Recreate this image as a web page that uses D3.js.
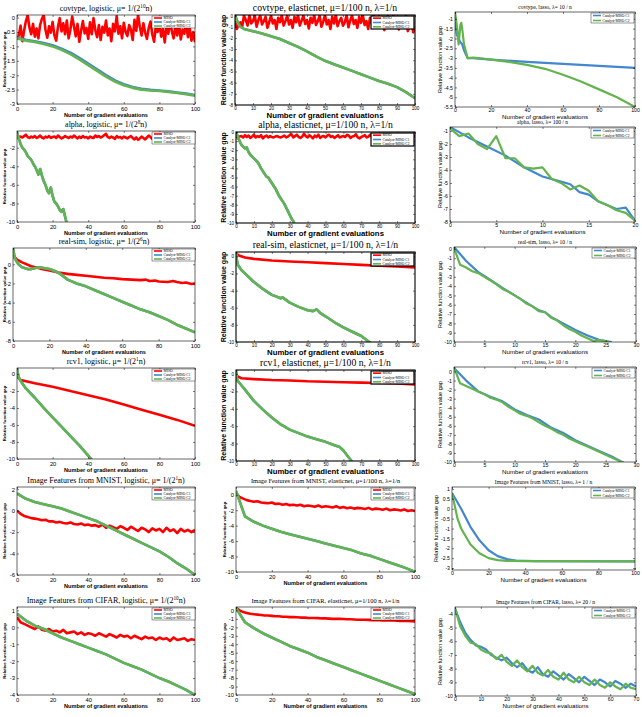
<!DOCTYPE html>
<html>
<head>
<meta charset="utf-8">
<script src="https://cdn.jsdelivr.net/npm/d3@7"></script>
<style>
  body { margin: 0; background: #fff; }
  text { fill: #000; }
</style>
</head>
<body>
<script>
// ---------------- data ----------------
const ser = (step, ys) => ys.map((v, i) => [i * step, v]);

const legend3 = ["MISO", "Catalyst-MISO C1", "Catalyst-MISO C2"];
const legend2 = ["Catalyst-MISO C1", "Catalyst-MISO C2"];

const ticks100by20 = [0, 20, 40, 60, 80, 100];
const ticks100by10 = [0, 10, 20, 30, 40, 50, 60, 70, 80, 90, 100];
const ticks20by5 = [0, 5, 10, 15, 20];
const ticks30by5 = [0, 5, 10, 15, 20, 25, 30];
const ticks70by10 = [0, 10, 20, 30, 40, 50, 60, 70];

// covtype
const covLogMiso = [-0.75,-0.62,-0.28,-0.82,-0.45,-0.12,0.08,-0.35,-0.58,-0.22,
  -0.66,-0.38,-0.72,-0.25,-0.04,0.09,-0.42,-0.7,-0.3,-0.52,
  -0.15,-0.62,-0.8,-0.33,-0.02,-0.48,-0.2,-0.58,-0.1,-0.72,
  -0.42,0.04,-0.3,-0.65,-0.22,-0.84,-0.46,-0.12,-0.55,-0.36,
  -0.74,-0.16,-0.58,-0.02,-0.44,-0.68,-0.26,-0.78,-0.32,-0.52,
  -0.1,-0.62,-0.38,-0.82,-0.22,-0.48,0.05,-0.56,-0.3,-0.72,
  -0.18,-0.5,-0.64,-0.26,-0.42,-0.78,-0.08,-0.46,0.1,-0.32,
  -0.62,-0.2,-0.52,-0.74,-0.36,-0.14,-0.58,-0.84,-0.3,-0.5,
  -0.22,-0.66,-0.4,-0.86,-0.26,-0.56,-0.1,-0.48,-0.72,-0.3,
  -0.62,-0.2,-0.76,-0.42,-0.56,-0.16,-0.68,-0.36,-0.8,-0.5,-0.86];
const covLogC1 = [-0.7,-0.77,-0.82,-0.88,-0.96,-1.08,-1.22,-1.4,-1.6,-1.8,-2.0,-2.18,-2.31,-2.41,-2.47,-2.51,-2.53,-2.56,-2.6,-2.64,-2.69];
const covLogC2 = [-0.72,-0.8,-0.85,-0.92,-1.0,-1.12,-1.27,-1.45,-1.65,-1.85,-2.05,-2.22,-2.35,-2.44,-2.5,-2.53,-2.55,-2.58,-2.62,-2.66,-2.71];

const covEnMiso = [-0.5,-1.2,-0.8,-0.6,-1.0,0.0,-0.4,-0.9,0.05,-0.7,
  -0.5,0.0,-1.0,-0.4,0.05,-0.8,-0.5,-0.1,-1.1,-0.6,
  0.0,-0.7,-0.4,-1.2,-0.2,-0.6,0.05,-0.9,-0.5,0.0,
  -0.8,-0.4,-1.1,-0.1,-0.6,0.05,-0.9,-0.45,0.0,-0.75,
  -0.4,-1.15,-0.2,-0.65,0.05,-0.85,-0.5,0.0,-1.0,-0.55,
  0.05,-0.8,-0.4,-1.2,-0.1,-0.7,0.05,-0.95,-0.5,-0.2,
  -0.9,-0.6,0.05,-1.05,-0.45,0.0,-0.75,-0.4,-1.1,-0.1,
  -0.65,0.05,-0.85,-0.5,-1.2,-0.2,-0.7,0.0,-1.0,-0.55,
  -0.1,-0.9,-0.6,-1.3,-0.4,-0.05,-1.0,-0.7,0.0,-0.85,
  -0.5,-1.25,-0.2,-0.8,-0.6,0.0,-1.4,-0.9,-0.5,-1.5,-1.2];
const covEnC = [[0,0.05],[1,-0.4],[2,-0.8],[3,-1.0],[5,-1.2],[10,-1.4],[15,-1.6],[20,-1.85],[25,-2.1],[30,-2.45],[35,-2.8],[40,-3.2],[45,-3.65],[50,-4.05],[55,-4.35],[60,-4.65],[65,-4.95],[70,-5.25],[75,-5.55],[80,-5.85],[85,-6.1],[90,-6.4],[95,-6.85],[100,-7.4]];

const covLasC1 = [[0,-1.0],[1,-1.8],[2,-2.0],[3,-2.2],[4,-2.3],[5,-2.6],[7,-3.0],[10,-3.0],[20,-3.08],[40,-3.2],[60,-3.3],[80,-3.4],[100,-3.5]];
const covLasC2 = [[0,-0.65],[1,-1.3],[2,-2.3],[3,-1.3],[3.5,-1.2],[4,-1.5],[5,-2.3],[7,-3.0],[10,-2.98],[13,-3.0],[20,-3.08],[30,-3.2],[40,-3.35],[50,-3.55],[60,-3.85],[70,-4.2],[80,-4.6],[90,-5.0],[100,-5.5]];

// alpha
const alphaLogMiso = [-1.0,-0.85,-0.8,-0.9,-0.75,-0.6,-0.85,-0.95,-0.8,-0.9,
  -0.75,-0.95,-0.85,-0.7,-0.9,-1.0,-0.8,-0.9,-0.75,-0.95,
  -0.85,-0.8,-0.95,-0.7,-0.85,-1.0,-0.9,-0.75,-0.85,-0.95,
  -0.8,-0.9,-0.7,-0.85,-1.0,-0.8,-0.95,-0.75,-0.9,-0.85,
  -1.0,-0.8,-0.9,-0.95,-0.7,-0.85,-0.75,-0.9,-0.8,-0.65,
  -0.5,-0.85,-0.95,-0.8,-0.9,-1.05,-0.75,-0.9,-0.85,-1.0,
  -0.8,-0.9,-1.0,-0.85,-0.75,-0.95,-1.1,-0.9,-1.15,-1.0,
  -0.8,-0.95,-1.1,-0.9,-0.7,-0.85,-1.05,-0.9,-0.8,-1.0,
  -0.9,-0.85,-1.05,-0.95,-0.8,-1.1,-0.9,-0.85,-1.0,-0.9,
  -0.8,-0.95,-1.05,-0.9,-0.85,-1.0,-0.9,-1.1,-0.95,-0.85,-0.95];
const alphaLogC = [-0.3,-1.0,-1.6,-2.0,-2.2,-2.5,-2.9,-3.1,-3.3,-3.7,-4.0,-4.4,-4.9,-4.3,-5.0,-5.6,-6.0,-6.6,-6.9,-6.3,-7.2,-7.8,-8.0,-8.3,-8.7,-8.9,-8.6,-9.4,-10.2];

const alphaEnMiso = [-0.3,-0.7,-0.5,-0.45,-0.6,-0.35,-0.55,-0.4,-0.65,-0.5,
  -0.3,-0.6,-0.45,-0.55,-0.35,-0.7,-0.5,-0.4,-0.6,-0.45,
  -0.55,-0.6,-0.5,-0.45,-0.55,-0.6,-0.5,-0.4,-0.6,-0.5,
  -0.35,-0.25,-0.6,-0.45,-0.3,-0.55,-0.65,-0.5,-0.2,-0.45,
  -0.6,-0.35,-0.5,-0.7,-0.4,-0.55,-0.3,-0.65,-0.5,-0.45,
  -0.6,-0.4,-0.3,-0.55,-0.45,-0.65,-0.5,-0.35,-0.6,-0.5,
  -0.45,-0.55,-0.3,-0.4,-0.65,-0.5,-0.45,-0.25,-0.6,-0.7,
  -0.55,-0.45,-0.35,-0.6,-0.5,-0.3,-0.55,-0.45,-0.7,-0.5,
  -0.4,-0.3,-0.55,-0.65,-0.45,-0.35,-0.6,-0.5,-0.7,-0.45,
  -0.35,-0.5,-0.6,-0.4,-0.55,-0.3,-0.5,-0.45,-0.35,-0.5,-0.4];
const alphaEnC = [0,-0.5,-1.0,-1.4,-1.6,-1.8,-1.7,-2.2,-2.5,-2.7,-2.9,-3.1,-3.3,-3.6,-4.0,-4.3,-4.6,-4.9,-5.0,-5.3,-5.6,-5.9,-6.2,-6.6,-7.0,-7.3,-7.6,-7.9,-8.3,-8.7,-9.1,-9.5,-9.8,-10.3];

const alphaLasC1 = [[0,-0.7],[2,-1.5],[4,-2.2],[6,-2.9],[8,-3.8],[10,-4.5],[12,-4.9],[13,-5.1],[14,-5.7],[15,-5.9],[16,-6.4],[18,-7.0],[19,-6.9],[20,-7.9]];
const alphaLasC2 = [-0.8,-1.4,-1.2,-2.0,-2.4,-1.4,-3.1,-3.1,-3.8,-3.9,-3.8,-4.7,-5.0,-5.5,-5.2,-5.6,-6.4,-6.7,-7.1,-7.3,-7.9];

// real-sim
const rsLogMiso = [[0,1.0],[2,0.5],[5,0.2],[10,-0.2],[15,-0.45],[20,-0.65],[25,-0.85],[30,-1.0],[35,-1.1],[40,-1.2],[45,-1.3],[50,-1.4],[55,-1.45],[60,-1.55],[65,-1.6],[70,-1.65],[73,-1.6],[75,-1.75],[78,-1.7],[80,-1.8],[85,-1.85],[88,-1.75],[90,-1.85],[93,-1.95],[95,-1.9],[98,-2.05],[100,-2.0]];
const rsLogC = [[0,1.7],[1,0.6],[3,0],[5,-0.3],[8,-0.5],[10,-0.5],[13,-0.35],[16,-0.35],[20,-0.5],[23,-0.7],[26,-1.0],[30,-1.6],[35,-2.0],[40,-2.3],[45,-2.7],[50,-3.1],[55,-3.5],[60,-3.9],[65,-4.3],[70,-4.7],[75,-5.0],[80,-5.4],[85,-5.8],[90,-6.3],[95,-6.7],[100,-7.1]];

const rsEnMiso = [[0,0.3],[2,0.05],[5,-0.15],[10,-0.3],[20,-0.5],[30,-0.6],[40,-0.7],[50,-0.8],[60,-0.9],[70,-1.0],[80,-1.1],[90,-1.2],[100,-1.3]];
const rsEnC = [[0,0.5],[0.5,-0.5],[1,-1.0],[3,-1.6],[5,-2.0],[10,-3.0],[15,-3.8],[20,-4.5],[25,-4.9],[26,-4.8],[30,-5.4],[35,-5.9],[40,-6.3],[43,-6.4],[45,-6.2],[47,-6.6],[50,-7.0],[55,-7.7],[60,-8.3],[65,-8.8],[70,-9.3],[75,-10.1]];

const rsLasC1 = [[0,0.2],[2,-1.3],[4,-2.5],[5,-2.9],[8,-4.2],[10,-5.0],[12,-5.8],[14,-6.6],[15,-6.8],[16,-7.3],[18,-8.0],[20,-8.7],[22,-9.3],[24,-9.8],[26,-10.0]];
const rsLasC2 = [0.1,-1.7,-2.0,-2.4,-2.6,-3.0,-3.4,-3.8,-4.3,-4.6,-5.0,-5.4,-5.9,-6.2,-6.7,-6.8,-7.4,-7.7,-8.2,-8.6,-8.9,-9.3,-9.6,-9.9,-9.8,-9.9,-10.1];

// rcv1
const rcvLogMiso = [[0,-0.3],[2,-0.7],[10,-1.1],[20,-1.5],[30,-2.0],[40,-2.5],[50,-3.0],[60,-3.6],[70,-4.2],[80,-4.8],[90,-5.4],[100,-6.1]];
const rcvLogC = [[0,0.7],[0.5,0],[1,-0.4],[2,-0.8],[5,-1.7],[10,-2.8],[15,-4.0],[20,-5.1],[25,-6.2],[30,-7.3],[35,-8.4],[40,-9.6],[42,-10.1]];

const rcvEnMiso = [[0,-0.2],[3,-0.5],[10,-0.6],[20,-0.7],[30,-0.75],[40,-0.85],[50,-0.9],[60,-0.95],[70,-1.0],[80,-1.05],[90,-1.1],[100,-1.2]];
const rcvEnC = [[0,0.4],[0.5,-0.5],[1,-0.8],[3,-1.3],[5,-1.8],[10,-3.1],[15,-4.1],[20,-5.0],[25,-5.8],[30,-6.4],[35,-6.8],[40,-7.2],[45,-7.5],[50,-7.8],[55,-8.2],[58,-8.4],[60,-8.8],[63,-9.6],[65,-10.1]];

const rcvLasC1 = [[0,0.4],[2,-1.0],[4,-2.2],[6,-2.8],[8,-3.3],[10,-4.2],[12,-4.8],[14,-5.3],[16,-6.2],[18,-6.8],[20,-7.6],[22,-8.2],[24,-8.8],[26,-9.4],[28,-10.1]];
const rcvLasC2 = [0.5,-1.3,-1.6,-1.9,-2.2,-2.5,-2.9,-3.1,-3.4,-3.9,-4.3,-4.7,-4.9,-5.2,-5.6,-6.0,-6.3,-6.7,-7.0,-7.4,-7.7,-8.0,-8.3,-8.6,-8.9,-9.2,-9.5,-9.8,-10.1];

// MNIST features
const mnLogMiso = [0.0,-0.3,-0.5,-0.6,-0.7,-0.75,-0.8,-0.9,-0.85,-1.0,
  -1.0,-1.1,-1.05,-1.15,-1.2,-1.1,-1.25,-1.3,-1.2,-1.35,
  -1.3,-1.4,-1.35,-1.5,-1.3,-1.6,-1.4,-1.55,-1.7,-1.45,
  -1.6,-1.8,-1.5,-1.7,-1.9,-1.6,-1.75,-2.0,-1.65,-1.85,
  -1.7,-2.0,-1.6,-1.9,-1.75,-2.1,-1.7,-1.95,-1.8,-2.0,-1.8];
const mnLogC = [1.6,1.1,0.8,0.6,0.4,0.2,-0.1,-0.4,-0.7,-1.0,-1.4,-1.8,-2.2,-2.6,-3.0,-3.4,-3.8,-4.3,-4.9,-5.4,-6.0];

const mnEnMiso = [0.2,-0.3,-0.5,-0.7,-0.8,-0.9,-0.85,-1.0,-1.05,-1.1,
  -1.0,-1.2,-1.15,-1.3,-1.2,-1.35,-1.3,-1.4,-1.3,-1.5,
  -1.4,-1.45,-1.55,-1.4,-1.6,-1.5,-1.55,-1.65,-1.5,-1.7,
  -1.6,-1.75,-1.65,-1.8,-1.7,-1.75,-1.85,-1.7,-1.9,-1.8,
  -1.85,-1.95,-1.8,-2.0,-1.9,-1.95,-2.05,-1.9,-2.1,-2.0,-2.1];
const mnEnC = [0.5,-2.8,-3.5,-4.0,-4.4,-4.8,-5.1,-5.4,-5.7,-6.0,-6.3,-6.6,-6.9,-7.2,-7.6,-7.9,-8.3,-8.7,-9.1,-9.5,-10.0];

const mnLasC1 = [[0,0.8],[5,0],[10,-0.9],[15,-1.6],[20,-2.1],[25,-2.4],[30,-2.55],[35,-2.62],[45,-2.65],[100,-2.66]];
const mnLasC2 = [[0,0.8],[3,-0.5],[5,-1.0],[10,-1.8],[15,-2.25],[20,-2.5],[25,-2.6],[30,-2.64],[40,-2.65],[100,-2.66]];

// CIFAR features
const cfLogMiso = [0.6,0.3,0.2,0.1,0.0,-0.1,0.05,-0.15,-0.2,-0.1,
  -0.25,-0.2,-0.3,-0.15,-0.35,-0.3,-0.25,-0.4,-0.3,-0.45,
  -0.35,-0.4,-0.5,-0.35,-0.45,-0.55,-0.4,-0.5,-0.6,-0.45,
  -0.55,-0.5,-0.65,-0.5,-0.6,-0.7,-0.55,-0.65,-0.6,-0.75,
  -0.6,-0.7,-0.65,-0.8,-0.6,-0.75,-0.7,-0.65,-0.8,-0.7,-0.75];
const cfLogC = [0.8,0.4,0.1,-0.1,-0.35,-0.6,-0.8,-1.0,-1.2,-1.4,-1.6,-1.85,-2.1,-2.3,-2.5,-2.75,-3.0,-3.2,-3.45,-3.7,-4.0];

const cfEnMiso = [0.3,0.0,-0.2,-0.3,-0.4,-0.45,-0.5,-0.55,-0.6,-0.6,
  -0.65,-0.7,-0.7,-0.75,-0.75,-0.8,-0.8,-0.82,-0.85,-0.85,
  -0.88,-0.9,-0.9,-0.92,-0.95,-0.95,-0.97,-1.0,-1.0,-1.0,
  -1.02,-1.05,-1.05,-1.07,-1.1,-1.1,-1.1,-1.12,-1.15,-1.15,
  -1.15,-1.18,-1.2,-1.2,-1.2,-1.22,-1.25,-1.25,-1.25,-1.28,-1.3];
const cfEnC = [0.3,-1.4,-2.1,-2.7,-3.2,-3.7,-4.2,-4.6,-5.0,-5.5,-5.9,-6.3,-6.7,-7.1,-7.5,-7.9,-8.3,-8.7,-9.1,-9.5,-9.9];

const cfLasC1 = [-3.6,-4.6,-5.4,-5.9,-6.3,-6.4,-6.6,-7.0,-7.2,-7.4,-7.2,-7.6,-7.9,-7.6,-8.1,-8.3,-7.9,-8.4,-8.6,-8.2,-8.5,-8.8,-8.4,-8.7,-9.0,-8.6,-8.9,-9.2,-8.8,-9.0,-9.3,-8.9,-9.1,-9.4,-9.1,-9.3];
const cfLasC2 = [-3.6,-4.9,-5.6,-6.1,-6.2,-6.6,-6.8,-6.9,-7.3,-7.0,-7.5,-7.8,-7.4,-7.9,-8.2,-7.8,-8.3,-8.5,-8.1,-8.6,-8.8,-8.3,-8.8,-9.0,-8.6,-9.0,-9.2,-8.8,-9.2,-9.4,-9.0,-9.3,-9.5,-9.1,-9.4,-9.5];

// ---------------- layout ----------------
const W = 642, H = 717;
const colors = { r: "#ff0000", b: "#4387cf", g: "#63b44f" };

// "old" = large bold labels (middle column, top four rows), "new" = small labels
const styles = {
  small: { title: 8, tick: 5.8, pad: 2.5, xlab: 5.6, xlabY: 13, ylab: 4.3, lab: "bold", lw: 2.6, leg: [43, 12], frame: 0.6, legStroke: 0.4 },
  big:   { title: 9.7, tick: 4.6, pad: 1.8, xlab: 7.8, xlabY: 12.8, ylab: 7.0, lab: "bold", lw: 2.6, leg: [43, 13], frame: 1.1, legStroke: 1.2 },
  lasso: { title: 5.5, tick: 5.2, pad: 1.4, xlab: 6.2, xlabY: 11.8, ylab: 5.6, lab: "normal", lw: 2.2, leg: [43, 10], frame: 0.6, legStroke: 0.4 }
};
const ylabXs = { 1: 4.5, 2: 224, 3: 440 };

const panels = [
  { c: 1, st: "small", box: [17, 15, 195, 104], title: "covtype, logistic, μ= 1/(2^{10}n)", x: [0, 100], xt: ticks100by20, y: [-3, 0.09], yt: [0, -0.5, -1, -1.5, -2, -2.5, -3],
    s: [["r", ser(1, covLogMiso)], ["b", ser(5, covLogC1)], ["g", ser(5, covLogC2)]] },
  { c: 2, st: "big", box: [235, 15, 415, 105], title: "covtype, elasticnet, μ=1/100 n, λ=1/n", x: [0, 100], xt: ticks100by10, y: [-8, 0.05], yt: [0, -1, -2, -3, -4, -5, -6, -7, -8],
    s: [["r", ser(1, covEnMiso)], ["b", covEnC], ["g", covEnC]] },
  { c: 3, st: "lasso", box: [455, 12, 635, 107], title: "covtype, lasso, λ= 10 / n", x: [0, 100], xt: ticks100by20, y: [-5.5, -0.65], yt: [-1, -1.5, -2, -2.5, -3, -3.5, -4, -4.5, -5, -5.5],
    s: [["b", covLasC1], ["g", covLasC2]] },

  { c: 1, st: "small", box: [17, 131, 195, 222], title: "alpha, logistic, μ= 1/(2^{8}n)", x: [0, 100], xt: ticks100by20, y: [-10, -0.2], yt: [-2, -4, -6, -8, -10],
    s: [["r", ser(1, alphaLogMiso)], ["b", ser(1, alphaLogC)], ["g", ser(1, alphaLogC)]] },
  { c: 2, st: "big", box: [236, 132, 415, 223], title: "alpha, elasticnet, μ=1/100 n, λ=1/n", x: [0, 100], xt: ticks100by10, y: [-10, 0], yt: [0, -1, -2, -3, -4, -5, -6, -7, -8, -9, -10],
    s: [["r", ser(1, alphaEnMiso)], ["b", ser(1, alphaEnC)], ["g", ser(1, alphaEnC)]] },
  { c: 3, st: "lasso", box: [450, 127, 635, 222], title: "alpha, lasso, λ= 100 / n", x: [0, 20], xt: ticks20by5, y: [-8, -0.7], yt: [-1, -2, -3, -4, -5, -6, -7, -8],
    s: [["b", alphaLasC1], ["g", ser(1, alphaLasC2)]] },

  { c: 1, st: "small", box: [13, 248, 195, 341], title: "real-sim, logistic, μ= 1/(2^{6}n)", x: [0, 100], xt: ticks100by20, y: [-8, 1.7], yt: [0, -2, -4, -6, -8],
    s: [["r", rsLogMiso], ["b", rsLogC], ["g", rsLogC]] },
  { c: 2, st: "big", box: [236, 252, 415, 342], title: "real-sim, elasticnet, μ=1/100 n, λ=1/n", x: [0, 100], xt: ticks100by10, y: [-10, 0.5], yt: [0, -2, -4, -6, -8, -10],
    s: [["r", rsEnMiso], ["b", rsEnC], ["g", rsEnC]] },
  { c: 3, st: "lasso", box: [454, 247, 636, 342], title: "real-sim, lasso, λ= 10 / n", x: [0, 30], xt: ticks30by5, y: [-10, 0.2], yt: [0, -1, -2, -3, -4, -5, -6, -7, -8, -9, -10],
    s: [["b", rsLasC1], ["g", ser(1, rsLasC2)]] },

  { c: 1, st: "small", box: [17, 368, 195, 459], title: "rcv1, logistic, μ= 1/(2^{1}n)", x: [0, 100], xt: ticks100by20, y: [-10, 0.7], yt: [0, -2, -4, -6, -8, -10],
    s: [["r", rcvLogMiso], ["b", rcvLogC], ["g", rcvLogC]] },
  { c: 2, st: "big", box: [236, 370, 415, 461], title: "rcv1, elasticnet, μ=1/100 n, λ=1/n", x: [0, 100], xt: ticks100by10, y: [-10, 0.45], yt: [0, -2, -4, -6, -8, -10],
    s: [["r", rcvEnMiso], ["b", rcvEnC], ["g", rcvEnC]] },
  { c: 3, st: "lasso", box: [454, 367, 636, 462], title: "rcv1, lasso, λ= 10 / n", x: [0, 30], xt: ticks30by5, y: [-10, 0.5], yt: [0, -1, -2, -3, -4, -5, -6, -7, -8, -9, -10],
    s: [["b", rcvLasC1], ["g", ser(1, rcvLasC2)]] },

  { c: 1, st: "small", box: [17, 487, 195, 575], title: "Image Features from MNIST, logistic, μ= 1/(2^{1}n)", x: [0, 100], xt: ticks100by20, y: [-6, 2.2], yt: [2, 0, -2, -4, -6],
    s: [["r", ser(2, mnLogMiso)], ["b", ser(5, mnLogC)], ["g", ser(5, mnLogC)]] },
  { c: 2, st: "small", box: [236, 487, 415, 572], titleSize: 6.4, title: "Image Features from MNIST, elasticnet, μ=1/100 n, λ=1/n", x: [0, 100], xt: ticks100by20, y: [-10, 1], yt: [0, -2, -4, -6, -8, -10],
    s: [["r", ser(2, mnEnMiso)], ["b", ser(5, mnEnC)], ["g", ser(5, mnEnC)]] },
  { c: 3, st: "lasso", box: [452, 487, 635, 570], ylabX: 436, title: "Image Features from MNIST, lasso, λ= 1 / n", x: [0, 100], xt: ticks100by20, y: [-3.1, 1.1], yt: [1, 0.5, 0, -0.5, -1, -1.5, -2, -2.5, -3],
    s: [["b", mnLasC1], ["g", mnLasC2]] },

  { c: 1, st: "small", box: [17, 607, 195, 695], title: "Image Features from CIFAR, logistic, μ= 1/(2^{10}n)", x: [0, 100], xt: ticks100by20, y: [-4, 1.2], yt: [1, 0, -1, -2, -3, -4],
    s: [["r", ser(2, cfLogMiso)], ["b", ser(5, cfLogC)], ["g", ser(5, cfLogC)]] },
  { c: 2, st: "small", box: [236, 607, 415, 695], titleSize: 6.4, title: "Image Features from CIFAR, elasticnet, μ=1/100 n, λ=1/n", x: [0, 100], xt: ticks100by20, y: [-10, 0.4], yt: [0, -1, -2, -3, -4, -5, -6, -7, -8, -9, -10],
    s: [["r", ser(2, cfEnMiso)], ["b", ser(5, cfEnC)], ["g", ser(5, cfEnC)]] },
  { c: 3, st: "lasso", box: [455, 607, 636, 696], title: "Image Features from CIFAR, lasso, λ= 20 / n", x: [0, 70], xt: ticks70by10, y: [-10, -3.5], yt: [-4, -5, -6, -7, -8, -9, -10],
    s: [["b", ser(2, cfLasC1)], ["g", ser(2, cfLasC2)]] }
];

// ---------------- drawing ----------------
const svg = d3.select("body").append("svg")
  .attr("width", W).attr("height", H)
  .style("font-family", "'Liberation Sans', Arial, sans-serif");

const fmt = d => String(d);

function addTitle(g, str, x, y, size) {
  const t = g.append("text")
    .attr("x", x).attr("y", y)
    .attr("text-anchor", "middle")
    .style("font-family", "'Liberation Serif', 'DejaVu Serif', serif")
    .style("font-size", size + "px");
  const parts = str.split(/\^\{([^}]*)\}/);
  parts.forEach((p, i) => {
    if (i % 2 === 1) {
      t.append("tspan").attr("dy", -size * 0.35).style("font-size", (size * 0.65) + "px").text(p);
    } else if (p) {
      const sp = t.append("tspan").text(p);
      if (i > 0) sp.attr("dy", size * 0.35);
    }
  });
}

panels.forEach((p, k) => {
  const st = styles[p.st];
  const [x0, y0, x1, y1] = p.box;
  const w = x1 - x0, h = y1 - y0;
  const g = svg.append("g").attr("transform", `translate(${x0},${y0})`);

  const x = d3.scaleLinear().domain(p.x).range([0, w]);
  const y = d3.scaleLinear().domain(p.y).range([h, 0]);

  g.append("defs").append("clipPath").attr("id", "clip" + k)
    .append("rect").attr("width", w).attr("height", h);

  // series
  const line = d3.line().x(d => x(d[0])).y(d => y(d[1]));
  const plot = g.append("g").attr("clip-path", `url(#clip${k})`);
  p.s.forEach(([c, pts]) => {
    plot.append("path")
      .datum(pts)
      .attr("d", line)
      .attr("fill", "none")
      .attr("stroke", colors[c])
      .attr("stroke-width", st.lw)
      .attr("stroke-linejoin", "round");
  });

  // axes (inward ticks, mirrored on top and right)
  const axStyle = sel => {
    sel.selectAll("path").remove();
    sel.selectAll("line").attr("stroke", "#000").attr("stroke-width", 0.5);
    sel.selectAll("text").style("font-size", st.tick + "px").attr("fill", "#000");
    sel.attr("font-family", null);
  };
  g.append("g").attr("transform", `translate(0,${h})`)
    .call(d3.axisBottom(x).tickValues(p.xt).tickFormat(fmt).tickSizeInner(-2).tickSizeOuter(0).tickPadding(st.pad))
    .call(axStyle);
  g.append("g")
    .call(d3.axisTop(x).tickValues(p.xt).tickFormat("").tickSizeInner(-2).tickSizeOuter(0))
    .call(axStyle);
  g.append("g")
    .call(d3.axisLeft(y).tickValues(p.yt).tickFormat(fmt).tickSizeInner(-2).tickSizeOuter(0).tickPadding(2))
    .call(axStyle);
  g.append("g").attr("transform", `translate(${w},0)`)
    .call(d3.axisRight(y).tickValues(p.yt).tickFormat("").tickSizeInner(-2).tickSizeOuter(0))
    .call(axStyle);

  g.append("rect").attr("width", w).attr("height", h)
    .attr("fill", "none").attr("stroke", "#000").attr("stroke-width", st.frame);

  // labels
  g.append("text")
    .attr("x", w / 2).attr("y", h + st.xlabY)
    .attr("text-anchor", "middle")
    .style("font-size", st.xlab + "px").style("font-weight", st.lab)
    .text("Number of gradient evaluations");
  const ylx = (p.ylabX || ylabXs[p.c]) - x0 + st.ylab * 0.35;
  g.append("text")
    .attr("transform", `translate(${ylx},${h / 2}) rotate(-90)`)
    .attr("text-anchor", "middle")
    .style("font-size", st.ylab + "px").style("font-weight", st.lab)
    .text("Relative function value gap");

  addTitle(g, p.title, w / 2, p.c === 3 ? -3 : -4.5, p.titleSize || st.title);

  // legend
  const names = p.c === 3 ? legend2 : legend3;
  const keys = p.c === 3 ? ["b", "g"] : ["r", "b", "g"];
  const [lw, lh] = st.leg;
  const lg = g.append("g").attr("transform", `translate(${w - lw - (p.c === 1 ? 0 : 1)},${1})`);
  lg.append("rect").attr("width", lw).attr("height", lh)
    .attr("fill", "#fff").attr("stroke", "#000").attr("stroke-width", st.legStroke);
  const rowH = lh / names.length;
  names.forEach((n, i) => {
    const cy = rowH * (i + 0.5);
    lg.append("line").attr("x1", 2).attr("x2", 10).attr("y1", cy).attr("y2", cy)
      .attr("stroke", colors[keys[i]]).attr("stroke-width", 1.6);
    lg.append("text").attr("x", 11.5).attr("y", cy + 1.2)
      .style("font-family", "'Liberation Serif', serif")
      .style("font-size", "3.6px").text(n);
  });
});
</script>
</body>
</html>
